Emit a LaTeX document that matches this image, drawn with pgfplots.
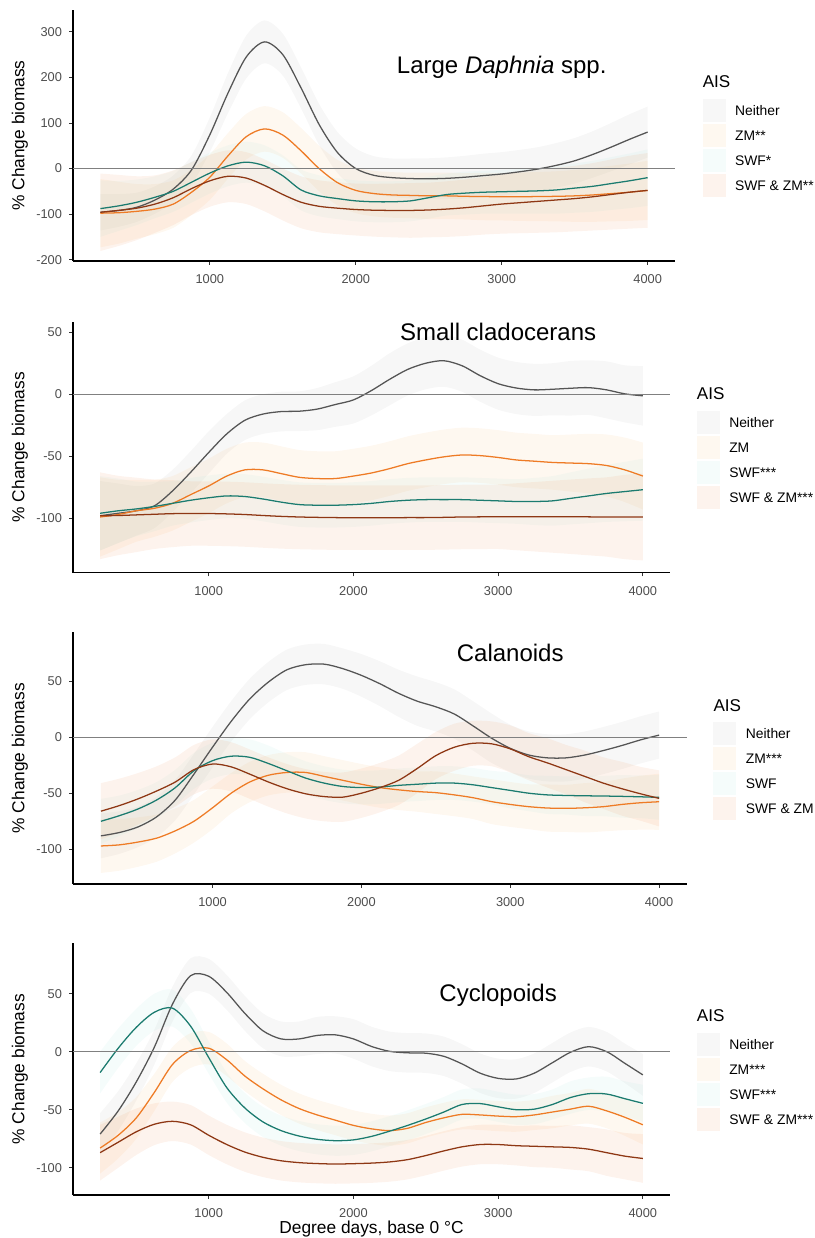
\documentclass[border=0pt]{standalone}
\usepackage{fontspec}
\setmainfont{Liberation Sans}
\usepackage{pgfplots}
\pgfplotsset{compat=1.18}
\usepackage{pgfplotstable}
\usepgfplotslibrary{fillbetween}

% line colours and ribbon fills for the four AIS groups
\definecolor{lnN}{HTML}{555555}
\definecolor{lnZ}{HTML}{EE7B25}
\definecolor{lnS}{HTML}{1B7B6F}
\definecolor{lnB}{HTML}{8E3714}
\definecolor{fN}{HTML}{B4B4B4}
\definecolor{fZ}{HTML}{F8BC73}
\definecolor{fS}{HTML}{A8E4DC}
\definecolor{fB}{HTML}{F0925A}
\definecolor{labcol}{HTML}{4D4D4D}
\definecolor{tickcol}{HTML}{333333}
\definecolor{zerocol}{HTML}{808080}
\newcommand\bandopacity{0.11}

\newcommand\tickfont{\fontsize{9.6}{11}\selectfont}
\newcommand\axfont{\fontsize{13}{15}\selectfont}
\newcommand\legtitlefont{\fontsize{12.8}{15}\selectfont}
\newcommand\legfont{\fontsize{10.4}{12}\selectfont}
\newcommand\panelfont{\fontsize{18}{21}\selectfont}

% columns: x = degree days; n/z/s/b = fitted % change for Neither, ZM, SWF, SWF & ZM;
% nw/zw/sw/bw = half width of the confidence band
\pgfplotstableread{
x    n     nw  z     zw  s    sw  b     bw
250  -96   40  -98   75  -88  62  -96   85
375  -92   36  -97   68  -82  55  -92   78
500  -85   32  -94   60  -74  50  -87   70
625  -69   30  -89   55  -63  46  -78   63
750  -45   30  -78   52  -50  45  -64   60
875  -3    32  -52   50  -30  45  -44   58
1000 74    38  -19   50  -10  45  -27   57
1125 166   44  28    50  6    45  -17   57
1250 245   47  70    50  14   45  -21   57
1375 278   47  87    50  6    45  -37   57
1500 250   46  73.5  50  -16  45  -57   57
1625 177   45  39    50  -47  45  -74   57
1750 96    45  -0.4  50  -60  45  -83   57
1875 35    45  -31   50  -66  45  -87   57
2000 0     44  -48   50  -71  45  -90   57
2125 -15   42  -55   50  -73  45  -91.5 58
2250 -20   42  -58   50  -73  45  -92   59
2375 -22   44  -59   50  -71  45  -92   60
2500 -22.5 45  -60   51  -64  46  -91   60
2625 -21.5 46  -60   51  -57  46  -89   61
2750 -19   47  -61   51  -54  47  -86   62
2875 -15.5 48  -61.5 52  -52  47  -82   63
3000 -12   48  -62   52  -51  48  -78   65
3125 -7    48  -62   53  -50  49  -75   67
3250 -1    48  -61.5 54  -49  50  -72   69
3375 7     49  -61   55  -47  52  -69   71
3500 17    50  -60   57  -43  54  -66   72
3625 31    51  -58   59  -39  56  -62   74
3750 47    53  -55   61  -33  58  -57   77
3875 64    55  -52   63  -27  60  -52   80
4000 80    56  -48   65  -20  62  -48   82
}\tblDaphnia

\pgfplotstableread{
x    n     nw  z     zw  s     sw  b     bw
250  -98   28  -99   32  -96   30  -98   35
375  -96   24  -97   28  -94   26  -97.8 32
500  -94   20  -94   25  -92.5 22  -97.3 30
625  -90   18  -92   23  -90.5 20  -96.8 28
750  -78   17  -88   22  -88   18  -96.3 27
875  -63   17  -81   22  -85.5 18  -96.2 26
1000 -47   17  -74   22  -83.5 18  -96.2 26
1125 -32   16  -66   22  -82   18  -96.5 26
1250 -21   16  -61   22  -82.5 18  -97   26
1375 -16   16  -61   22  -84.5 18  -97.8 26
1500 -14   16  -64   22  -87   18  -98.5 26
1625 -13.7 16  -67   22  -89   18  -99   26
1750 -12   17  -68   22  -89.5 18  -99.3 26
1875 -8.3  18  -68   22  -89.5 18  -99.5 26
2000 -4.6  19  -66   22  -89   18  -99.6 26
2125 3     20  -63.5 22  -88   18  -99.6 26
2250 12    21  -60   22  -86.5 18  -99.6 26
2375 20    21  -56   22  -85.5 18  -99.5 26
2500 25    21  -53   22  -85   18  -99.5 26
2625 27    21  -50.5 22  -85   18  -99.3 26
2750 23    21  -49   22  -85   18  -99   26
2875 15    21  -49.5 22  -85.5 18  -98.9 26
3000 8.5   21  -51   22  -86   18  -98.8 26
3125 5     21  -53   22  -86.5 18  -98.8 27
3250 3.5   21  -54   22  -86.5 19  -98.8 28
3375 4     21  -55   22  -86   20  -98.8 29
3500 4.8   22  -55.5 23  -84   21  -98.8 30
3625 5.3   22  -56   24  -82   22  -98.9 31
3750 3.5   23  -57.5 25  -80   23  -99   32
3875 0.3   23  -61   26  -78.5 24  -99   34
4000 -1.3  24  -66   27  -77   25  -99   35
}\tblSmall

\pgfplotstableread{
x    n     nw  z     zw  s     sw  b     bw
250  -88   20  -97   24  -75   20  -66   25
375  -85   19  -96   23  -70   18  -61   24
500  -80   18  -93.5 22  -64   17  -55   23
625  -71   18  -90   21  -56   16  -48   22
750  -56   18  -83.5 20  -45   16  -40   22
875  -33   18  -75   19  -30   16  -29   22
1000 -9    18  -63   19  -21   16  -24   22
1125 14    18  -50   18  -17   16  -26.5 22
1250 34    18  -40   18  -18   16  -33   22
1375 49    18  -34   18  -23.5 16  -40   22
1500 60    18  -31.5 18  -30   15  -46   22
1625 64.5  18  -31.5 18  -36.5 15  -50.5 22
1750 65    18  -35   18  -41   15  -53   22
1875 61    18  -38.5 18  -44   15  -53.5 22
2000 55    19  -42   18  -45   15  -50   22
2125 47.5  20  -45   18  -44.5 15  -45   22
2250 39    21  -47   18  -43   15  -38.5 22
2375 32    22  -48.5 18  -42   15  -28   22
2500 27    22  -49.5 19  -41   15  -16.5 21
2625 20.5  22  -51.5 19  -41   15  -9    21
2750 10    22  -54   19  -42.5 15  -5.5  20
2875 -1    22  -57.5 20  -45   15  -6    20
3000 -10   21  -60   20  -47.5 16  -10.5 21
3125 -16   21  -62   20  -50   16  -17.5 21
3250 -18.5 21  -63.2 21  -51.5 17  -23   22
3375 -18.5 21  -63.5 21  -52   17  -29   22
3500 -16   21  -63   22  -52.3 18  -35   23
3625 -12   21  -62   22  -52.5 18  -41   23
3750 -7.5  21  -60   23  -52.8 19  -46   24
3875 -2.5  21  -58.5 24  -53.2 19  -50.5 24
4000 1.8   21  -57.6 25  -53.7 20  -54.6 25
}\tblCalanoid

\pgfplotstableread{
x    n     nw  z     zw  s     sw  b     bw
250  -71   18  -83   22  -18   18  -87   24
375  -51   17  -72   20  3     17  -78   22
500  -26   16  -57   18  21    16  -69   20
625  4     15  -35   16  34    16  -62.5 18
750  41    15  -11   15  37.5  16  -60   17
875  65.5  15  1     15  22    15  -63   17
1000 65    15  3     14  -5    14  -72   17
1125 51    15  -7    14  -31   13  -80   17
1250 33    15  -21   13  -48.5 13  -86.5 17
1375 18    15  -32   13  -60.5 13  -91   17
1500 11    15  -41.5 13  -68   13  -94   17
1625 11    15  -49   13  -72.7 13  -95.6 17
1750 14    16  -54.5 13  -75.5 13  -96.4 17
1875 14.5  16  -59   13  -76.7 13  -96.8 17
2000 11    17  -63.5 13  -76   13  -96.5 17
2125 4.5   17  -66.5 13  -73   13  -96   17
2250 0.3   17  -68   13  -68.5 13  -95   17
2375 -1    17  -66   13  -63.5 13  -93   17
2500 -1.3  17  -61   13  -58   13  -89.5 17
2625 -4    17  -57   13  -52   13  -85.5 17
2750 -10.5 17  -54   13  -45.5 13  -82   17
2875 -18.5 17  -54.5 13  -44.7 13  -80   17
3000 -23   17  -55.5 13  -47.5 13  -80   17
3125 -23.5 17  -56   13  -50   13  -81   17
3250 -18.5 17  -54.5 13  -49.5 13  -81.5 18
3375 -9.5  17  -52   14  -45.5 13  -82   18
3500 -0.5  17  -49.5 14  -39.5 14  -82.5 19
3625 4.3   17  -47   15  -36.2 14  -84   19
3750 0     17  -51   15  -36.5 15  -87   20
3875 -10   17  -56.5 16  -40.5 15  -90   20
4000 -20   18  -63   17  -44.5 16  -92   21
}\tblCyclopoid

% confidence band: #1 table, #2 mean column, #3 half-width column, #4 fill colour
\newcommand\band[4]{%
  \addplot[draw=none, smooth, name path=u#2] table[x=x, y expr=\thisrow{#2}+\thisrow{#3}] {#1};
  \addplot[draw=none, smooth, name path=l#2] table[x=x, y expr=\thisrow{#2}-\thisrow{#3}] {#1};
  \addplot[fill=#4, fill opacity=\bandopacity, draw=none] fill between[of=u#2 and l#2];
}
\newcommand\curve[3]{\addplot[#3, smooth, line width=0.95pt] table[x=x, y=#2] {#1};}
\newcommand\allseries[1]{%
  \band{#1}{n}{nw}{fN}\band{#1}{z}{zw}{fZ}\band{#1}{s}{sw}{fS}\band{#1}{b}{bw}{fB}
  \curve{#1}{n}{lnN}\curve{#1}{z}{lnZ}\curve{#1}{s}{lnS}\curve{#1}{b}{lnB}
  \addplot[zerocol, line width=0.75pt] coordinates {(62.5,0) (4187.5,0)};
}

% legend key (coordinates in pixels of the full figure)
\newcommand\legkey[4]{%
  \fill[#3, fill opacity=\bandopacity] (#1,#2) rectangle ++(23,23);
  \node[anchor=base west, inner sep=0pt, font=\legfont] at ({#1+32.3},{#2+16.3}) {#4};
}
\newcommand\aislegend[7]{%
  \begin{scope}[x=0.75pt, y=-0.75pt]
    \node[anchor=base west, inner sep=0pt, font=\legtitlefont] at (#1,#2) {AIS};
    \legkey{#1}{#3}{fN}{#4}
    \legkey{#1}{#3+25}{fZ}{#5}
    \legkey{#1}{#3+50}{fS}{#6}
    \legkey{#1}{#3+75}{fB}{#7}
  \end{scope}
}

\pgfplotsset{
  panel/.style={
    scale only axis, anchor=south west,
    xmin=62.5, xmax=4187.5,
    axis x line*=bottom, axis y line*=left,
    axis line style={-, line width=1.1pt, black},
    xtick={1000,2000,3000,4000},
    scaled ticks=false,
    tick align=outside, major tick length=2.85pt,
    major tick style={line width=0.6pt, color=tickcol},
    tick label style={font=\tickfont, text=labcol},
    xticklabel style={anchor=north, inner sep=0pt, yshift=-7.1pt},
    yticklabel style={anchor=east, inner sep=0pt, xshift=-5.25pt},
    /pgf/number format/assume math mode=true,
    /pgf/number format/1000 sep={},
    ylabel={\% Change biomass},
    every axis y label/.style={at={([xshift=-36.4pt]rel axis cs:0,0.5)}, rotate=90, anchor=base, font=\axfont},
    every axis x label/.style={at={([yshift=-28.7pt]rel axis cs:0.5,0)}, anchor=base, font=\axfont},
  }
}

\begin{document}
\begin{tikzpicture}

% Large Daphnia
\begin{axis}[panel, at={(54.75pt,-195.75pt)}, width=451.5pt, height=188.25pt,
  ymin=-203, ymax=348, ytick={-200,-100,0,100,200,300}]
  \allseries{\tblDaphnia}
  \node[anchor=base, font=\panelfont] at (axis cs:3000,209) {Large \textit{Daphnia} spp.};
\end{axis}
\aislegend{702.5}{87.3}{99}{Neither}{ZM**}{SWF*}{SWF \& ZM**}

% Small cladocerans
\begin{axis}[panel, at={(54.75pt,-429.5pt)}, width=447.75pt, height=188.25pt,
  ymin=-143.9, ymax=58.5, ytick={-100,-50,0,50}]
  \allseries{\tblSmall}
  \node[anchor=base, font=\panelfont] at (axis cs:3000,43) {Small cladocerans};
\end{axis}
\aislegend{696.7}{399.3}{410.7}{Neither}{ZM}{SWF***}{SWF \& ZM***}

% Calanoids
\begin{axis}[panel, at={(54.75pt,-663pt)}, width=460.5pt, height=188.8pt,
  ymin=-130.9, ymax=93.4, ytick={-100,-50,0,50}]
  \allseries{\tblCalanoid}
  \node[anchor=base, font=\panelfont] at (axis cs:3000,67) {Calanoids};
\end{axis}
\aislegend{713.3}{711}{721.7}{Neither}{ZM***}{SWF}{SWF \& ZM}

% Cyclopoids
\begin{axis}[panel, at={(54.75pt,-896.25pt)}, width=447.75pt, height=188.8pt,
  ymin=-123.5, ymax=93.4, ytick={-100,-50,0,50},
  xlabel={Degree days, base 0 °C}]
  \allseries{\tblCyclopoid}
  \node[anchor=base, font=\panelfont] at (axis cs:3000,43) {Cyclopoids};
\end{axis}
\aislegend{696.7}{1021.7}{1032.7}{Neither}{ZM***}{SWF***}{SWF \& ZM***}

% page size of the whole figure
\pgfresetboundingbox
\path[use as bounding box] (0,0) rectangle (610.5pt,-928.5pt);
\end{tikzpicture}
\end{document}
